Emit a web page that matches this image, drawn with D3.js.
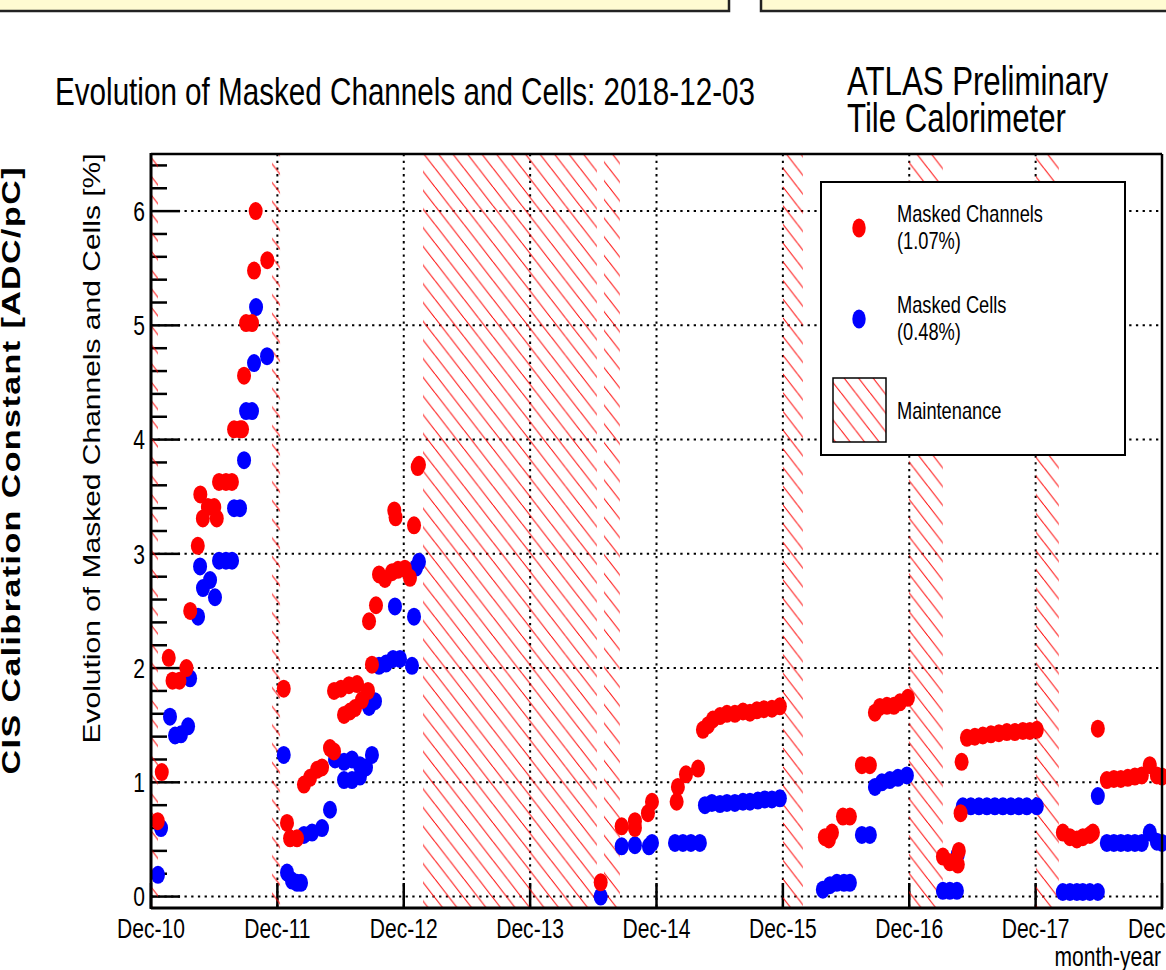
<!DOCTYPE html>
<meta charset="utf-8">
<head>
	<title>Evolution of Masked Channels and Cells</title>
	<script type="text/javascript" src="https://cdn.jsdelivr.net/npm/d3@7"></script>
	<style>
		body { margin: 0; background: #fff; }
		text { font-family: "Liberation Sans", Arial, Helvetica, sans-serif; fill: #000; }
	</style>
</head>

<body>
<div id="chart"></div>

<script>
	// values: [decimal year, percent]
	var channels = [
		[2010.970, 0.66], [2011.002, 1.09], [2011.057, 2.09], [2011.087, 1.89], [2011.142, 1.89],
		[2011.197, 2.00], [2011.227, 2.50], [2011.287, 3.07], [2011.307, 3.52], [2011.327, 3.31],
		[2011.367, 3.41], [2011.417, 3.41], [2011.437, 3.31], [2011.455, 3.63], [2011.510, 3.63],
		[2011.557, 3.63], [2011.574, 4.09], [2011.621, 4.09], [2011.637, 4.09], [2011.653, 4.56],
		[2011.669, 5.02], [2011.716, 5.02], [2011.732, 5.48], [2011.745, 6.00], [2011.837, 5.57],
		[2011.967, 1.82], [2011.993, 0.645], [2012.017, 0.51], [2012.072, 0.51], [2012.127, 0.98],
		[2012.175, 1.04], [2012.230, 1.11], [2012.270, 1.13], [2012.333, 1.30], [2012.365, 1.27],
		[2012.365, 1.80], [2012.420, 1.82], [2012.483, 1.85], [2012.547, 1.86], [2012.634, 1.80],
		[2012.444, 1.59], [2012.491, 1.62], [2012.531, 1.65], [2012.586, 1.72], [2012.665, 2.03],
		[2012.642, 2.41], [2012.697, 2.55], [2012.721, 2.82], [2012.768, 2.78], [2012.824, 2.84],
		[2012.871, 2.86], [2012.926, 2.87], [2012.966, 2.79], [2012.842, 3.38], [2012.852, 3.32],
		[2012.998, 3.25], [2013.027, 3.76], [2013.037, 3.78],
		[2014.475, 0.125], [2014.641, 0.615], [2014.746, 0.60], [2014.746, 0.66], [2014.849, 0.73],
		[2014.881, 0.83], [2015.076, 0.83], [2015.086, 0.96], [2015.150, 1.07], [2015.245, 1.12],
		[2015.284, 1.46], [2015.324, 1.50], [2015.363, 1.55], [2015.419, 1.58], [2015.474, 1.60],
		[2015.537, 1.60], [2015.601, 1.62], [2015.656, 1.61], [2015.711, 1.63], [2015.767, 1.64],
		[2015.830, 1.645], [2015.893, 1.665],
		[2016.249, 0.52], [2016.281, 0.50], [2016.305, 0.56], [2016.392, 0.70], [2016.447, 0.70],
		[2016.542, 1.15], [2016.605, 1.15], [2016.645, 1.61], [2016.684, 1.66], [2016.740, 1.67],
		[2016.795, 1.67], [2016.843, 1.70], [2016.906, 1.74],
		[2017.183, 0.35], [2017.238, 0.30], [2017.278, 0.31], [2017.301, 0.28], [2017.309, 0.40],
		[2017.323, 0.73], [2017.331, 1.18], [2017.373, 1.39], [2017.436, 1.40], [2017.499, 1.41],
		[2017.563, 1.42], [2017.626, 1.43], [2017.689, 1.44], [2017.752, 1.44], [2017.816, 1.45],
		[2017.871, 1.45], [2017.926, 1.46],
		[2018.132, 0.56], [2018.188, 0.52], [2018.243, 0.50], [2018.290, 0.52], [2018.346, 0.54],
		[2018.370, 0.56], [2018.409, 1.47], [2018.480, 1.02], [2018.536, 1.03], [2018.591, 1.03],
		[2018.646, 1.04], [2018.702, 1.05], [2018.757, 1.06], [2018.820, 1.15], [2018.876, 1.06],
		[2018.917, 1.05]
	];

	var cells = [
		[2010.972, 0.19], [2010.996, 0.60], [2011.067, 1.575], [2011.107, 1.41], [2011.154, 1.42],
		[2011.210, 1.49], [2011.226, 1.91], [2011.289, 2.45], [2011.305, 2.89], [2011.328, 2.70],
		[2011.384, 2.77], [2011.423, 2.62], [2011.455, 2.94], [2011.510, 2.94], [2011.558, 2.94],
		[2011.574, 3.40], [2011.621, 3.40], [2011.653, 3.82], [2011.669, 4.25], [2011.716, 4.25],
		[2011.732, 4.67], [2011.748, 5.16], [2011.835, 4.73],
		[2011.967, 1.24], [2011.993, 0.21], [2012.032, 0.14], [2012.072, 0.12], [2012.104, 0.12],
		[2012.127, 0.54], [2012.191, 0.56], [2012.270, 0.60], [2012.333, 0.76], [2012.373, 1.20],
		[2012.444, 1.18], [2012.507, 1.20], [2012.570, 1.15], [2012.618, 1.13], [2012.665, 1.24],
		[2012.444, 1.02], [2012.507, 1.02], [2012.570, 1.05], [2012.642, 1.66], [2012.689, 1.71],
		[2012.721, 2.02], [2012.776, 2.04], [2012.832, 2.08], [2012.887, 2.08], [2012.982, 2.02],
		[2012.847, 2.54], [2012.998, 2.45], [2013.014, 2.88], [2013.037, 2.93],
		[2014.475, 0.00], [2014.641, 0.44], [2014.746, 0.45], [2014.857, 0.44], [2014.881, 0.47],
		[2015.063, 0.47], [2015.126, 0.47], [2015.189, 0.47], [2015.260, 0.47], [2015.300, 0.80],
		[2015.355, 0.82], [2015.419, 0.81], [2015.474, 0.82], [2015.537, 0.82], [2015.601, 0.83],
		[2015.656, 0.83], [2015.719, 0.84], [2015.775, 0.85], [2015.830, 0.85], [2015.893, 0.86],
		[2016.233, 0.06], [2016.289, 0.10], [2016.344, 0.12], [2016.400, 0.12], [2016.447, 0.12],
		[2016.542, 0.54], [2016.605, 0.54], [2016.645, 0.96], [2016.700, 1.00], [2016.763, 1.02],
		[2016.827, 1.04], [2016.898, 1.06],
		[2017.183, 0.05], [2017.238, 0.05], [2017.294, 0.05], [2017.301, 0.37], [2017.341, 0.79],
		[2017.404, 0.79], [2017.468, 0.79], [2017.531, 0.79], [2017.594, 0.79], [2017.658, 0.79],
		[2017.721, 0.79], [2017.784, 0.79], [2017.847, 0.79], [2017.926, 0.79],
		[2018.132, 0.04], [2018.188, 0.04], [2018.243, 0.04], [2018.290, 0.04], [2018.346, 0.04],
		[2018.409, 0.04], [2018.409, 0.88], [2018.480, 0.47], [2018.536, 0.47], [2018.591, 0.47],
		[2018.646, 0.47], [2018.702, 0.47], [2018.757, 0.47], [2018.820, 0.56], [2018.876, 0.48],
		[2018.917, 0.47]
	];

	// maintenance periods [start, end] in decimal years
	var maintenance = [
		[2010.880, 2010.972], [2011.874, 2011.938], [2013.069, 2014.445], [2014.501, 2014.627],
		[2015.917, 2016.075], [2016.914, 2017.183], [2017.919, 2018.101]
	];

	var xTickYears = [2010, 2011, 2012, 2013, 2014, 2015, 2016, 2017, 2018];
	var xTickLabels = ["Dec-10", "Dec-11", "Dec-12", "Dec-13", "Dec-14", "Dec-15", "Dec-16", "Dec-17", "Dec-18"];
	var yTicks = [0, 1, 2, 3, 4, 5, 6];

	var legendItems = [
		{name: "Masked Channels", pct: "(1.07%)", color: "#ff0000"},
		{name: "Masked Cells", pct: "(0.48%)", color: "#0000ff"}
	];

	var width = 1166, height = 970;
	var frame = {left: 151, top: 154, right: 1162, bottom: 908};
	var SX = 0.78; // the picture is squeezed horizontally

	var x = d3.scaleLinear()
		.domain([2010 + 11 / 12, 2018 + 11 / 12])
		.range([frame.left, frame.right]);
	var y = d3.scaleLinear()
		.domain([-0.1, 6.5])
		.range([frame.bottom, frame.top]);

	var svg = d3.select("#chart").append("svg")
		.attr("width", width)
		.attr("height", height);

	var defs = svg.append("defs");
	var hw = 14.5, hh = 14.5 * 1.29;
	var pat = defs.append("pattern")
		.attr("id", "hatch")
		.attr("patternUnits", "userSpaceOnUse")
		.attr("width", hw)
		.attr("height", hh);
	pat.append("path")
		.attr("d", "M" + (-hw) + ",0L0," + hh + "M0,0L" + hw + "," + hh + "M" + hw + ",0L" + (2 * hw) + "," + hh)
		.attr("stroke", "#ff0000")
		.attr("stroke-width", 1);

	defs.append("clipPath").attr("id", "frameclip")
		.append("rect")
		.attr("x", frame.left).attr("y", frame.top)
		.attr("width", frame.right - frame.left)
		.attr("height", frame.bottom - frame.top);

	function label(g, px, py, str, size, anchor) {
		return g.append("text")
			.attr("transform", "translate(" + px + "," + py + ") scale(" + SX + ",1)")
			.attr("text-anchor", anchor || "start")
			.style("font-size", size + "px")
			.text(str);
	}

	// yellow boxes at top
	svg.append("rect").attr("x", -3).attr("y", -10).attr("width", 732).attr("height", 21)
		.attr("fill", "#fffbd2").attr("stroke", "#222").attr("stroke-width", 2.5);
	svg.append("rect").attr("x", 761).attr("y", -10).attr("width", 420).attr("height", 21)
		.attr("fill", "#fffbd2").attr("stroke", "#222").attr("stroke-width", 2.5);

	// titles
	label(svg, 55, 105, "Evolution of Masked Channels and Cells: 2018-12-03", 38);
	label(svg, 847, 95, "ATLAS Preliminary", 40);
	label(svg, 847, 132, "Tile Calorimeter", 40);

	// grid
	var grid = svg.append("g")
		.attr("stroke", "#000")
		.attr("stroke-width", 2)
		.attr("stroke-dasharray", "2.3,4.4");
	grid.selectAll("line.h").data(yTicks).join("line")
		.attr("class", "h")
		.attr("x1", frame.left).attr("x2", frame.right)
		.attr("y1", function(d) { return y(d); }).attr("y2", function(d) { return y(d); });
	grid.selectAll("line.v").data(xTickYears.slice(1, -1)).join("line")
		.attr("class", "v")
		.attr("y1", frame.top).attr("y2", frame.bottom)
		.attr("x1", function(d) { return x(d + 11 / 12); }).attr("x2", function(d) { return x(d + 11 / 12); });

	// axis ticks
	var ticks = svg.append("g").attr("stroke", "#000").attr("stroke-width", 2.5);
	var minor = d3.range(0, 33).map(function(i) { return i * 0.2; })
		.filter(function(v) { return Math.abs(v - Math.round(v)) > 0.01; });
	ticks.selectAll("line.ymaj").data(yTicks).join("line")
		.attr("x1", frame.left).attr("x2", frame.left + 29)
		.attr("y1", function(d) { return y(d); }).attr("y2", function(d) { return y(d); });
	ticks.selectAll("line.ymin").data(minor).join("line")
		.attr("class", "ymin")
		.attr("x1", frame.left).attr("x2", frame.left + 16)
		.attr("y1", function(d) { return y(d); }).attr("y2", function(d) { return y(d); });
	ticks.selectAll("line.xmaj").data(xTickYears).join("line")
		.attr("class", "xmaj")
		.attr("y1", frame.bottom).attr("y2", frame.bottom - 25)
		.attr("x1", function(d) { return x(d + 11 / 12); }).attr("x2", function(d) { return x(d + 11 / 12); });

	// maintenance hatches
	svg.append("g").attr("clip-path", "url(#frameclip)")
		.selectAll("rect").data(maintenance).join("rect")
		.attr("x", function(d) { return x(d[0]); })
		.attr("width", function(d) { return x(d[1]) - x(d[0]); })
		.attr("y", frame.top)
		.attr("height", frame.bottom - frame.top)
		.attr("fill", "url(#hatch)");

	// markers: cells first, channels on top
	var marks = svg.append("g");
	marks.selectAll("ellipse.cell").data(cells).join("ellipse")
		.attr("class", "cell")
		.attr("cx", function(d) { return x(d[0]); })
		.attr("cy", function(d) { return y(d[1]); })
		.attr("rx", 7).attr("ry", 9)
		.attr("fill", "#0000ff");
	marks.selectAll("ellipse.chan").data(channels).join("ellipse")
		.attr("class", "chan")
		.attr("cx", function(d) { return x(d[0]); })
		.attr("cy", function(d) { return y(d[1]); })
		.attr("rx", 7).attr("ry", 9)
		.attr("fill", "#ff0000");

	// frame
	var fr = svg.append("g").attr("stroke", "#000").attr("fill", "none");
	fr.append("line").attr("x1", frame.left).attr("x2", frame.right).attr("y1", frame.top).attr("y2", frame.top).attr("stroke-width", 2.5);
	fr.append("line").attr("x1", frame.right).attr("x2", frame.right).attr("y1", frame.top).attr("y2", frame.bottom).attr("stroke-width", 2.5);
	fr.append("line").attr("x1", frame.left).attr("x2", frame.right + 1).attr("y1", frame.bottom).attr("y2", frame.bottom).attr("stroke-width", 3);
	fr.append("line").attr("x1", frame.left).attr("x2", frame.left).attr("y1", frame.top - 1).attr("y2", frame.bottom + 1).attr("stroke-width", 3);

	// tick labels
	yTicks.forEach(function(v) {
		label(svg, 145, y(v) + 9.7, String(v), 27, "end");
	});
	xTickYears.forEach(function(yr, i) {
		label(svg, x(yr + 11 / 12), 938, xTickLabels[i], 27, "middle");
	});
	label(svg, 1161, 966, "month-year", 27, "end");

	// axis titles
	svg.append("text")
		.attr("transform", "translate(100,448.5) scale(" + SX + ",1) rotate(-90)")
		.attr("text-anchor", "middle")
		.style("font-size", "30px")
		.text("Evolution of Masked Channels and Cells [%]");
	svg.append("text")
		.attr("transform", "translate(20,471) scale(" + SX + ",1) rotate(-90)")
		.attr("text-anchor", "middle")
		.attr("textLength", 607)
		.attr("lengthAdjust", "spacing")
		.style("font-size", "34px")
		.style("font-weight", "bold")
		.text("CIS Calibration Constant [ADC/pC]");

	// legend
	var leg = svg.append("g");
	leg.append("rect").attr("x", 821).attr("y", 182).attr("width", 304).attr("height", 273)
		.attr("fill", "#fff").attr("stroke", "#000").attr("stroke-width", 2);
	legendItems.forEach(function(item, i) {
		var cy = 228 + i * 91;
		leg.append("ellipse").attr("cx", 859).attr("cy", cy).attr("rx", 6.7).attr("ry", 9.5).attr("fill", item.color);
		label(leg, 897, cy - 6, item.name, 23.4);
		label(leg, 897, cy + 21, item.pct, 23.4);
	});
	leg.append("rect").attr("x", 833).attr("y", 378).attr("width", 53).attr("height", 64)
		.attr("fill", "#fff").attr("stroke", "none");
	leg.append("rect").attr("x", 833).attr("y", 378).attr("width", 53).attr("height", 64)
		.attr("fill", "url(#hatch)").attr("stroke", "#000").attr("stroke-width", 1.5);
	label(leg, 897, 419, "Maintenance", 23.4);
</script>
</body>
